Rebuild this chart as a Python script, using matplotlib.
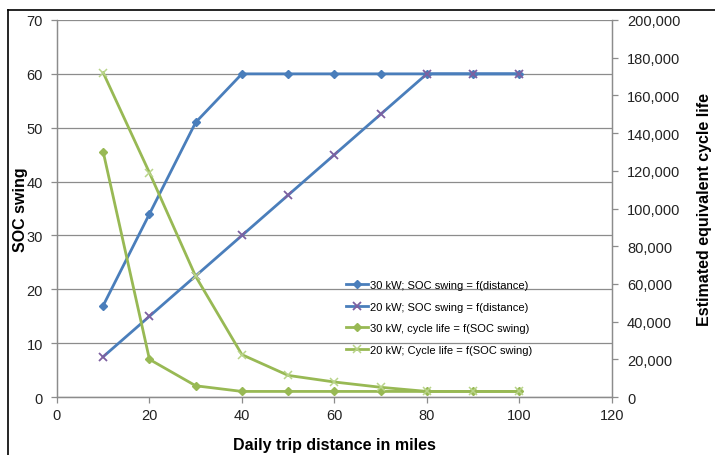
import matplotlib.pyplot as plt
from matplotlib.lines import Line2D
from matplotlib.ticker import FuncFormatter

plt.rcParams['font.family'] = ['Liberation Sans', 'DejaVu Sans']

# data
distance = [10, 20, 30, 40, 50, 60, 70, 80, 90, 100]
soc_30kw = [17, 34, 51, 60, 60, 60, 60, 60, 60, 60]
soc_20kw = [7.5, 15, 22.5, 30, 37.5, 45, 52.5, 60, 60, 60]
life_30kw = [130000, 20000, 6000, 3000, 3000, 3000, 3000, 3000, 3000, 3000]
life_20kw = [172000, 119000, 64000, 22500, 11500, 8000, 5200, 3000, 3000, 3000]

blue = '#4A7EBB'
purple = '#7D60A0'
green = '#98B954'
light_green = '#B9D48A'
grid_gray = '#8C8C8C'

fig = plt.figure(figsize=(7.15, 4.56), dpi=100)
ax = fig.add_axes([0.0797, 0.127, 0.776, 0.827])
ax2 = ax.twinx()

# chart border like the spreadsheet frame
fig.add_artist(Line2D([8 / 715, 8 / 715], [0, 1 - 11 / 456], color='black', lw=1.2))
fig.add_artist(Line2D([8 / 715, 1], [1 - 11 / 456, 1 - 11 / 456], color='black', lw=1.2))

l1, = ax.plot(distance, soc_30kw, color=blue, lw=2, marker='D', ms=4.5,
              label='30 kW; SOC swing = f(distance)')
l2, = ax.plot(distance, soc_20kw, color=blue, lw=2, marker='x', ms=6, mew=1.3,
              mec=purple, label='20 kW; SOC swing = f(distance)')
l3, = ax2.plot(distance, life_30kw, color=green, lw=2, marker='D', ms=4.5,
               label='30 kW, cycle life = f(SOC swing)')
l4, = ax2.plot(distance, life_20kw, color=green, lw=2, marker='x', ms=6, mew=1.1,
               mec=light_green, label='20 kW; Cycle life = f(SOC swing)')

ax.set_xlim(0, 120)
ax.set_xticks(range(0, 121, 20))
ax.set_ylim(0, 70)
ax.set_yticks(range(0, 71, 10))
ax2.set_ylim(0, 200000)
ax2.set_yticks(range(0, 200001, 20000))
ax2.yaxis.set_major_formatter(FuncFormatter(lambda v, p: f'{int(v):,}'))

ax.grid(axis='y', color=grid_gray, lw=0.9)
ax.set_axisbelow(True)

for a in (ax, ax2):
    a.spines['top'].set_visible(False)
    for s in ('left', 'bottom', 'right'):
        a.spines[s].set_color(grid_gray)
        a.spines[s].set_linewidth(0.9)
    a.tick_params(colors=grid_gray, labelcolor='#222222', labelsize=10.5,
                  length=4, width=0.9)
ax.tick_params(axis='y', pad=6)
ax2.tick_params(axis='y', pad=7)

ax.set_xlabel('Daily trip distance in miles', fontsize=11.5, fontweight='bold', labelpad=11)
ax.set_ylabel('SOC swing', fontsize=11.5, fontweight='bold', labelpad=-1)
ax2.set_ylabel('Estimated equivalent cycle life', fontsize=11.5, fontweight='bold', labelpad=12)

fig.legend(handles=[l1, l2, l3, l4], loc='upper left',
           bbox_to_anchor=(336 / 715, 1 - 271 / 456), frameon=False,
           fontsize=8, labelspacing=1.05, handlelength=2.0, handletextpad=0.2)

fig.savefig('out.png', dpi=100)
